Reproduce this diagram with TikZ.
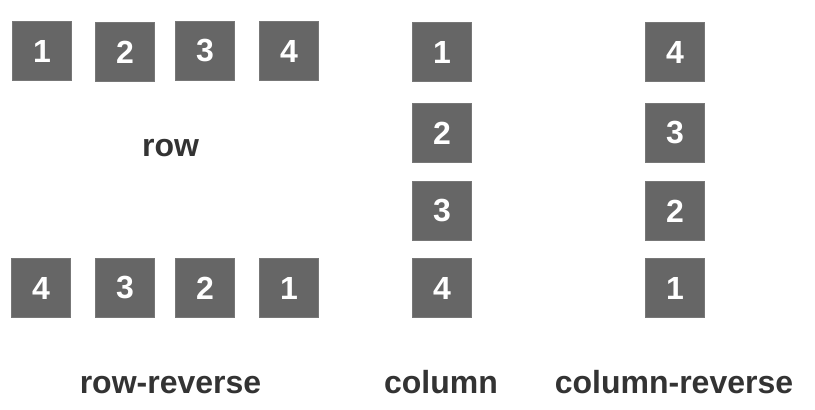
\documentclass[tikz,border=0pt]{standalone}
\usepackage{fontspec}
\setmainfont{Liberation Sans}
\definecolor{boxfill}{HTML}{666666}
\definecolor{boxline}{HTML}{777777}
\definecolor{labeltext}{HTML}{333333}
\tikzset{
  item/.style={rectangle, fill=boxfill, draw=boxline, line width=1pt,
    minimum width=59pt, minimum height=59pt, inner sep=0pt,
    text=white, font=\fontsize{32}{38}\selectfont\bfseries},
  caption/.style={anchor=base, inner sep=0pt, text=labeltext,
    font=\fontsize{32}{38}\selectfont\bfseries}
}
\begin{document}
\begin{tikzpicture}[x=1pt,y=-1pt]
\useasboundingbox (0,0) rectangle (815,410);
% row
\node[item] (r1) at (42,51) {1};
\node[item] (r2) at (125,52) {2};
\node[item] (r3) at (205,51) {3};
\node[item] (r4) at (289,51) {4};
\node[caption] (lrow) at (170.5,156) {row};
% row-reverse
\node[item] (rr4) at (41,288) {4};
\node[item] (rr3) at (125,288) {3};
\node[item] (rr2) at (205,288) {2};
\node[item] (rr1) at (289,288) {1};
\node[caption] (lrowrev) at (170.5,393) {row-reverse};
% column
\node[item] (c1) at (442,52) {1};
\node[item] (c2) at (442,133) {2};
\node[item] (c3) at (442,211) {3};
\node[item] (c4) at (442,288) {4};
\node[caption] (lcol) at (441,393) {column};
% column-reverse
\node[item] (cr4) at (675,52) {4};
\node[item] (cr3) at (675,133) {3};
\node[item] (cr2) at (675,211) {2};
\node[item] (cr1) at (675,288) {1};
\node[caption] (lcolrev) at (674,393) {column-reverse};
\end{tikzpicture}
\end{document}
